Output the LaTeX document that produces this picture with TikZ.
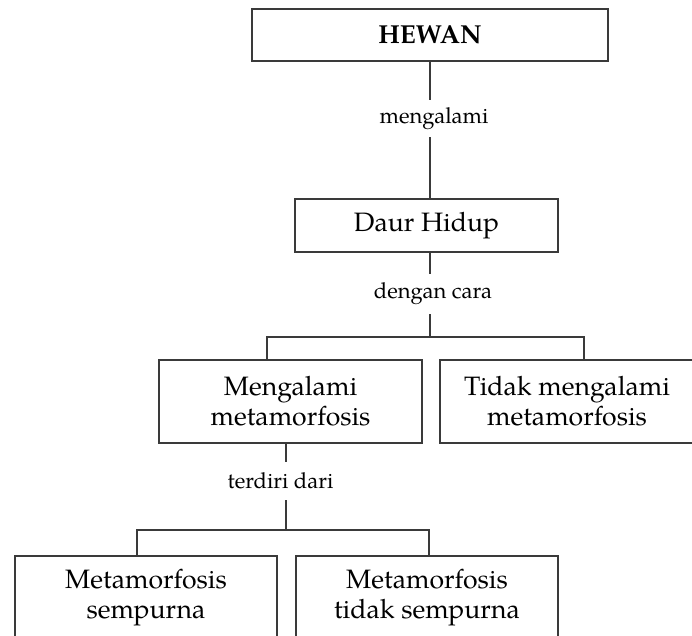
\documentclass[tikz,border=0pt]{standalone}
\usepackage{fontspec}
\setmainfont{texgyrepagella}[Extension=.otf,UprightFont=*-regular,BoldFont=*-bold,ItalicFont=*-italic,BoldItalicFont=*-bolditalic]
\usetikzlibrary{positioning, calc}
\definecolor{garis}{HTML}{3A3A3A}
\tikzset{
  kotak/.style={draw=garis,line width=1pt,align=center,inner sep=0pt,font=\fontsize{13.3}{15}\selectfont},
  ket/.style={inner sep=0pt,minimum width=60pt,font=\fontsize{11}{13}\selectfont},
  sambung/.style={draw=garis,line width=.75pt}
}

\begin{document}
\begin{tikzpicture}[x=0.5pt,y=-0.5pt]
	\useasboundingbox (0,0) rectangle (692,636);
	\clip (0,0) rectangle (692,636);
	\node[kotak,minimum width=178pt,minimum height=26pt,font=\bfseries\fontsize{13}{15}\selectfont] (hewan) at (430,35) {HEWAN};
	\node[ket,minimum height=18.5pt] (ket1) at (434,118.5) {mengalami};
	\node[kotak,minimum width=131.5pt,minimum height=26.5pt] (daur) at (426.5,225.5) {Daur Hidup};
	\node[ket,minimum height=20pt] (ket2) at (433,294) {dengan cara};
	\node[kotak,minimum width=131.5pt,minimum height=41.5pt] (meng) at (290.5,401.5) {Mengalami\\metamorfosis};
	\node[kotak,minimum width=127pt,minimum height=41.5pt] (tidak) at (567,401.5) {Tidak mengalami\\metamorfosis};
	\node[ket,minimum height=19pt] (ket3) at (280.5,481) {terdiri dari};
	\node[kotak,minimum width=131pt,minimum height=41.5pt] (semp) at (146,597.5) {Metamorfosis\\sempurna};
	\node[kotak,minimum width=131pt,minimum height=41.5pt] (tsemp) at (427,597.5) {Metamorfosis\\tidak sempurna};
	\coordinate (p1) at (430,337);
	\coordinate (p2) at (267,337);
	\coordinate (p3) at (584,337);
	\coordinate (q1) at (286,530);
	\coordinate (q2) at (137,530);
	\coordinate (q3) at (429,530);
	\draw[sambung] (hewan.south -| p1) -- (ket1.north -| p1) (ket1.south -| p1) -- (daur.north -| p1)
		(daur.south -| p1) -- (ket2.north -| p1) (ket2.south -| p1) -- (p1);
	\draw[sambung] (meng.north -| p2) -- (p2) -- (p3) -- (tidak.north -| p3);
	\draw[sambung] (meng.south -| q1) -- (ket3.north -| q1) (ket3.south -| q1) -- (q1);
	\draw[sambung] (semp.north -| q2) -- (q2) -- (q3) -- (tsemp.north -| q3);
\end{tikzpicture}
\end{document}
